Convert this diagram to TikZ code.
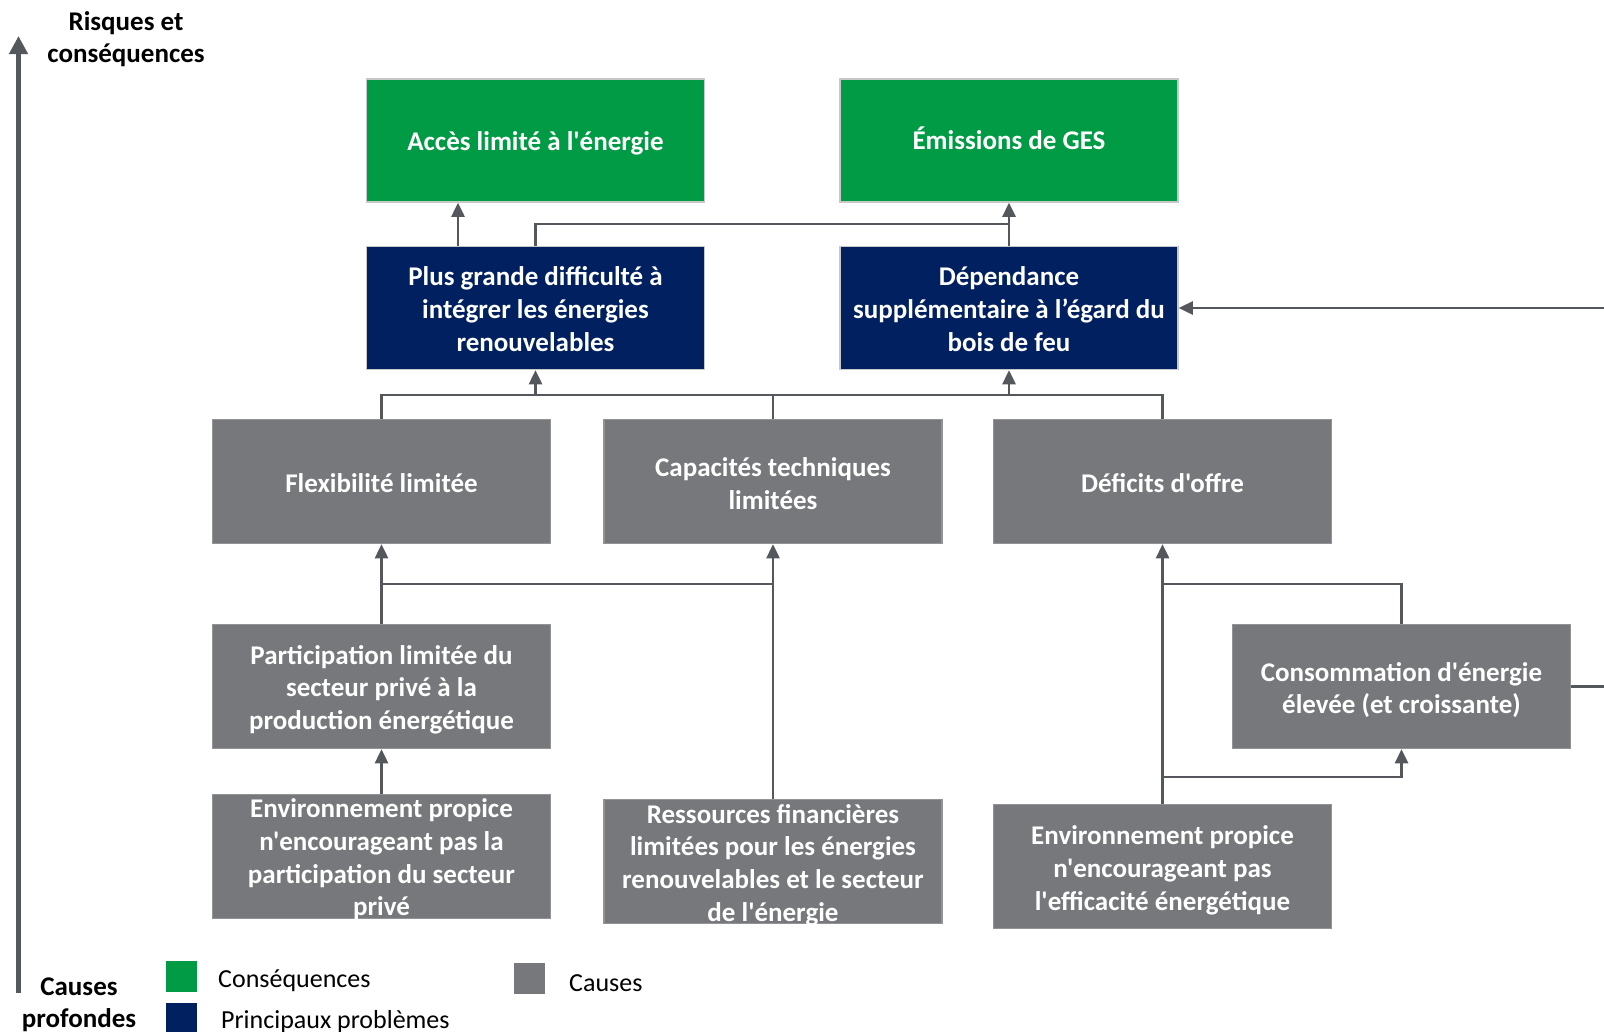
\documentclass[tikz,border=0pt]{standalone}
\usepackage{fontspec}
\setmainfont{Carlito}[Ligatures=TeXOff]
\usetikzlibrary{arrows.meta,calc}
\definecolor{cgreen}{RGB}{0,155,68}
\definecolor{cnavy}{RGB}{0,32,96}
\definecolor{cgray}{RGB}{118,120,123}
\definecolor{cline}{RGB}{84,88,92}
\definecolor{cborder}{RGB}{200,200,200}
\tikzset{
  box/.style={minimum width=338pt, minimum height=123pt, inner sep=0pt, line width=1.5pt},
  cons/.style={box, fill=cgreen, draw=cborder},
  prob/.style={box, fill=cnavy, draw=cborder},
  cause/.style={box, fill=cgray, draw=cgray!80!white, minimum height=124pt},
  txt/.style={align=center, text=white, font=\bfseries\fontsize{27}{32.7}\selectfont, inner sep=0pt},
  ln/.style={draw=cline, line width=2.5pt},
  arr/.style={ln, -{Triangle[length=14pt,width=13pt]}},
  axisarr/.style={draw=cline, line width=5pt, -{Triangle[length=18pt,width=18pt]}},
  lab/.style={font=\bfseries\fontsize{27}{32}\selectfont, align=center, inner sep=0pt},
  legtxt/.style={font=\fontsize{26}{28}\selectfont, anchor=west, inner sep=0pt},
  legsq/.style={minimum width=31pt, minimum height=31pt, inner sep=0pt}
}
\begin{document}
\begin{tikzpicture}[x=1pt,y=-1pt]
\useasboundingbox[fill=white] (0,0) rectangle (1604,1031);

% Top: consequences
\node[cons] (g1) at (535.5,140.5) {};
\node[txt] (g1t) at ([yshift=-3pt]g1.center) {Accès limité à l'énergie};
\node[cons] (g2) at (1009,140.5) {};
\node[txt] (g2t) at ([yshift=2pt]g2.center) {Émissions de GES};
% Main problems
\node[prob] (n1) at (535.5,308) {};
\node[txt] (n1t) at ([yshift=-1pt]n1.center) {Plus grande difficulté à\\intégrer les énergies\\renouvelables};
\node[prob] (n2) at (1009,308) {};
\node[txt] (n2t) at ([yshift=-1pt]n2.center) {Dépendance\\supplémentaire à l’égard du\\bois de feu};
% Causes row
\node[cause] (flex) at (381.5,481.5) {};
\node[txt] (flext) at ([yshift=-2pt]flex.center) {Flexibilité limitée};
\node[cause] (cap) at (773,481.5) {};
\node[txt] (capt) at ([yshift=-2pt]cap.center) {Capacités techniques\\limitées};
\node[cause] (def) at (1162.5,481.5) {};
\node[txt] (deft) at ([yshift=-2pt]def.center) {Déficits d'offre};
\node[cause] (part) at (381.5,686.5) {};
\node[txt] (partt) at ([yshift=-3pt]part.center) {Participation limitée du\\secteur privé à la\\production énergétique};
\node[cause] (conso) at (1401.5,686.5) {};
\node[txt] (consot) at ([yshift=-3.5pt]conso.center) {Consommation d'énergie\\élevée (et croissante)};
\node[cause] (env1) at (381.5,856.5) {};
\node[txt] (env1t) at ([yshift=-3pt]env1.center) {Environnement propice\\n'encourageant pas la\\participation du secteur\\privé};
\node[cause] (res) at (773,861.5) {};
\node[txt] (rest) at ([yshift=-3.5pt]res.center) {Ressources financières\\limitées pour les énergies\\renouvelables et le secteur\\de l'énergie};
\node[cause] (env2) at (1162.5,866.5) {};
\node[txt] (env2t) at ([yshift=-4pt]env2.center) {Environnement propice\\n'encourageant pas\\l'efficacité énergétique};

% helper coordinates
\coordinate (j1) at (1009,224);
\coordinate (b1) at (0,395);
\coordinate (b2) at (0,584);
\coordinate (b3) at (0,777);
\coordinate (redge) at (1604,0);

% connectors top
\draw[arr] ([xshift=-77.5pt]n1.north) -- ([xshift=-77.5pt]g1.south);
\draw[ln] (n1.north) |- (j1);
\draw[arr] (n2.north) -- (g2.south);
% bus row 3 to problems
\draw[ln] (flex.north) |- (def.north |- b1) -- (def.north);
\draw[ln] (cap.north) -- (cap.north |- b1);
\draw[arr] (n1.south |- b1) -- (n1.south);
\draw[arr] (n2.south |- b1) -- (n2.south);
% lower left
\draw[arr] (part.north) -- (flex.south);
\draw[ln] (flex.south |- b2) -- (cap.south |- b2);
\draw[arr] (res.north) -- (cap.south);
\draw[arr] (env1.north) -- (part.south);
% lower right
\draw[arr] (env2.north) -- (def.south);
\draw[ln] (def.south |- b2) -| (conso.north);
\draw[arr] (env2.north |- b3) -| (conso.south);
\draw[ln] (conso.east) -- (conso.east -| redge);
\draw[arr] (n2.east -| redge) -- (n2.east);

% axis
\coordinate (axb) at (18.5,993);
\coordinate (axt) at (18.5,36);
\draw[axisarr] (axb) -- (axt);
\node[lab] (top) at (126,39.5) {Risques et\\conséquences};
\node[lab] (bot) at (79,1005) {Causes\\profondes};

% legend
\node[legsq, fill=cgreen] (lg) at (181.5,976.5) {};
\node[legtxt] (lgt) at (218,981) {Conséquences};
\node[legsq, fill=cnavy] (ln) at (181.5,1018) {};
\node[legtxt] (lnt) at (221,1022) {Principaux problèmes};
\node[legsq, fill=cgray] (lc) at (529.5,978.5) {};
\node[legtxt] (lct) at (569,983) {Causes};
\end{tikzpicture}
\end{document}
